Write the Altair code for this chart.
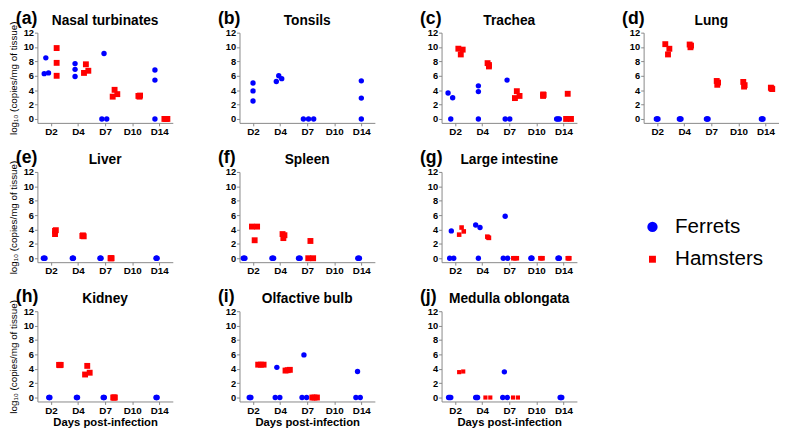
import altair as alt
import pandas as pd

DAYS = ["D2", "D4", "D7", "D10", "D14"]
SPECIES = ["Ferrets", "Hamsters"]
COLORS = ["#0000FF", "#FF0000"]

# (day, log10 value, horizontal jitter within day slot)
NASAL_F = [("D2", 6.3, -0.25), ("D2", 8.5, -0.19), ("D2", 6.4, -0.09),
           ("D4", 7.7, -0.11), ("D4", 6.9, -0.11), ("D4", 5.9, -0.11),
           ("D7", 9.1, -0.04), ("D7", 0, -0.12), ("D7", 0, 0.06),
           ("D14", 6.8, -0.16), ("D14", 5.4, -0.16), ("D14", 0, -0.16)]
NASAL_H = [("D2", 9.86, 0.21), ("D2", 7.8, 0.21), ("D2", 6.0, 0.21),
           ("D4", 7.6, 0.29), ("D4", 6.4, 0.22), ("D4", 6.7, 0.38),
           ("D7", 4.05, 0.35), ("D7", 3.1, 0.28), ("D7", 3.45, 0.45),
           ("D10", 3.2, 0.23), ("D10", 3.1, 0.27), ("D10", 3.25, 0.29),
           ("D14", 0, 0.19), ("D14", 0, 0.25), ("D14", 0, 0.3)]
TONSIL_F = [("D2", 5.0, 0.0), ("D2", 3.9, 0.0), ("D2", 2.5, 0.0),
            ("D4", 5.2, -0.14), ("D4", 6.0, -0.05), ("D4", 5.6, 0.06),
            ("D7", 0, -0.14), ("D7", 0, 0.05), ("D7", 0, 0.24),
            ("D14", 5.3, 0.0), ("D14", 2.9, 0.0), ("D14", 0, 0.0)]
TONSIL_H = []
TRACHEA_F = [("D2", 3.6, -0.26), ("D2", 2.95, -0.09), ("D2", 0, -0.16),
             ("D4", 4.6, -0.14), ("D4", 3.8, -0.14), ("D4", 0, -0.14),
             ("D7", 5.4, -0.08), ("D7", 0, -0.15), ("D7", 0, 0.02),
             ("D14", 0, -0.25), ("D14", 0, -0.2), ("D14", 0, -0.15)]
TRACHEA_H = [("D2", 9.77, 0.12), ("D2", 9.64, 0.28), ("D2", 8.97, 0.21),
             ("D4", 7.76, 0.2), ("D4", 7.5, 0.25), ("D4", 7.3, 0.25),
             ("D7", 3.86, 0.28), ("D7", 2.9, 0.21), ("D7", 3.2, 0.38),
             ("D10", 3.4, 0.25), ("D10", 3.2, 0.25), ("D10", 3.35, 0.27),
             ("D14", 3.5, 0.16), ("D14", 0, 0.1), ("D14", 0, 0.28)]
LUNG_F = [("D2", 0, -0.03), ("D2", 0, 0.0), ("D2", 0, 0.03),
          ("D4", 0, -0.18), ("D4", 0, -0.15), ("D4", 0, -0.12),
          ("D7", 0, -0.18), ("D7", 0, -0.15), ("D7", 0, -0.12),
          ("D14", 0, -0.15), ("D14", 0, -0.12), ("D14", 0, -0.09)]
LUNG_H = [("D2", 10.4, 0.3), ("D2", 9.76, 0.45), ("D2", 8.97, 0.4),
          ("D4", 10.35, 0.2), ("D4", 10.2, 0.25), ("D4", 9.97, 0.23),
          ("D7", 5.28, 0.2), ("D7", 5.06, 0.25), ("D7", 4.75, 0.22),
          ("D10", 5.15, 0.18), ("D10", 4.7, 0.23), ("D10", 4.5, 0.21),
          ("D14", 4.35, 0.2), ("D14", 4.16, 0.25), ("D14", 4.25, 0.22)]
LIVER_F = [("D2", 0, -0.28), ("D2", 0, -0.25), ("D2", 0, -0.22),
           ("D4", 0, -0.21), ("D4", 0, -0.19), ("D4", 0, -0.17),
           ("D7", 0, -0.19), ("D7", 0, -0.17), ("D7", 0, -0.15),
           ("D14", 0, -0.12), ("D14", 0, -0.1), ("D14", 0, -0.08)]
LIVER_H = [("D2", 3.8, 0.15), ("D2", 3.36, 0.15), ("D2", 3.9, 0.18),
           ("D4", 3.18, 0.18), ("D4", 3.05, 0.21), ("D4", 3.1, 0.16),
           ("D7", 0, 0.2), ("D7", 0, 0.22), ("D7", 0, 0.24)]
SPLEEN_F = [("D2", 0, -0.36), ("D2", 0, -0.33), ("D2", 0, -0.3),
            ("D4", 0, -0.3), ("D4", 0, -0.27), ("D4", 0, -0.24),
            ("D7", 0, -0.32), ("D7", 0, -0.29), ("D7", 0, -0.26),
            ("D14", 0, -0.13), ("D14", 0, -0.1), ("D14", 0, -0.07)]
SPLEEN_H = [("D2", 4.4, -0.04), ("D2", 4.4, 0.15), ("D2", 2.5, 0.06),
            ("D4", 3.36, 0.09), ("D4", 3.2, 0.16), ("D4", 2.8, 0.12),
            ("D7", 2.4, 0.12), ("D7", 0, 0.04), ("D7", 0, 0.22)]
LARGE_F = [("D2", 3.8, -0.14), ("D2", 0, -0.2), ("D2", 0, -0.05),
           ("D4", 4.63, -0.24), ("D4", 4.27, -0.08), ("D4", 0, -0.14),
           ("D7", 5.84, -0.15), ("D7", 0, -0.22), ("D7", 0, -0.06),
           ("D10", 0, -0.2), ("D10", 0, -0.18), ("D10", 0, -0.16),
           ("D14", 0, -0.2), ("D14", 0, -0.17), ("D14", 0, -0.15)]
LARGE_H = [("D2", 3.28, 0.15), ("D2", 4.27, 0.24), ("D2", 3.73, 0.32),
           ("D4", 3.0, 0.19), ("D4", 2.83, 0.25), ("D4", 2.9, 0.22),
           ("D7", 0, 0.15), ("D7", 0, 0.22), ("D7", 0, 0.28),
           ("D10", 0, 0.15), ("D10", 0, 0.19), ("D10", 0, 0.23),
           ("D14", 0, 0.16), ("D14", 0, 0.19), ("D14", 0, 0.22)]
KIDNEY_F = [("D2", 0, -0.08), ("D2", 0, -0.06), ("D2", 0, -0.04),
            ("D4", 0, -0.06), ("D4", 0, -0.04), ("D4", 0, -0.02),
            ("D7", 0, -0.07), ("D7", 0, -0.05), ("D7", 0, -0.03),
            ("D14", 0, -0.12), ("D14", 0, -0.1), ("D14", 0, -0.08)]
KIDNEY_H = [("D2", 4.54, 0.3), ("D2", 4.54, 0.36), ("D2", 4.5, 0.33),
            ("D4", 3.2, 0.26), ("D4", 4.4, 0.34), ("D4", 3.45, 0.43),
            ("D7", 0, 0.3), ("D7", 0, 0.33), ("D7", 0, 0.36)]
OLF_F = [("D2", 0, -0.14), ("D2", 0, -0.08), ("D2", 0, -0.11),
         ("D4", 4.2, -0.12), ("D4", 0, -0.18), ("D4", 0, -0.01),
         ("D7", 5.93, -0.12), ("D7", 0, -0.19), ("D7", 0, -0.02),
         ("D14", 3.62, -0.14), ("D14", 0, -0.2), ("D14", 0, -0.04)]
OLF_H = [("D2", 4.57, 0.19), ("D2", 4.57, 0.29), ("D2", 4.57, 0.39),
         ("D4", 3.75, 0.2), ("D4", 3.85, 0.36), ("D4", 3.8, 0.28),
         ("D7", 0, 0.19), ("D7", 0, 0.27), ("D7", 0, 0.36)]
MEDULLA_F = [("D2", 0, -0.24), ("D2", 0, -0.2), ("D2", 0, -0.16),
             ("D4", 0, -0.24), ("D4", 0, -0.2), ("D4", 0, -0.17),
             ("D7", 3.57, -0.18), ("D7", 0, -0.24), ("D7", 0, -0.07),
             ("D14", 0, -0.12), ("D14", 0, -0.09), ("D14", 0, -0.06)]
MEDULLA_H = [("D2", 3.53, 0.15), ("D2", 3.62, 0.3),
             ("D4", 0, 0.12), ("D4", 0, 0.3),
             ("D7", 0, 0.14), ("D7", 0, 0.32)]

PANELS = [
    ("(a)", "Nasal turbinates", NASAL_F, NASAL_H, 1.0),
    ("(b)", "Tonsils", TONSIL_F, TONSIL_H, 1.0),
    ("(c)", "Trachea", TRACHEA_F, TRACHEA_H, 1.0),
    ("(d)", "Lung", LUNG_F, LUNG_H, 1.0),
    ("(e)", "Liver", LIVER_F, LIVER_H, 1.0),
    ("(f)", "Spleen", SPLEEN_F, SPLEEN_H, 1.0),
    ("(g)", "Large intestine", LARGE_F, LARGE_H, 0.6),
    ("(h)", "Kidney", KIDNEY_F, KIDNEY_H, 1.0),
    ("(i)", "Olfactive bulb", OLF_F, OLF_H, 1.0),
    ("(j)", "Medulla oblongata", MEDULLA_F, MEDULLA_H, 0.5),
]

Y_TITLE = "log\u2081\u2080 (copies/mg of tissue)"
X_TITLE = "Days post-infection"
FONT = "Liberation Sans"
W, H = 138, 92
NO_VIEW = alt.ViewBackground(stroke="transparent", strokeWidth=0)

label_expr = "[" + ",".join(f"'{d}'" for d in DAYS) + "][datum.value]"


def make_df(ferrets, hamsters, hscale):
    rows = []
    for sp, pts, sz in (("Ferrets", ferrets, 30), ("Hamsters", hamsters, 36 * hscale)):
        for day, val, jit in pts:
            rows.append({"species": sp, "day": day, "value": val,
                         "pos": DAYS.index(day) + jit, "msize": sz})
    return pd.DataFrame(rows)


def panel(letter, title, ferrets, hamsters, hscale, first_col, bottom_row):
    df = make_df(ferrets, hamsters, hscale)
    x_axis = alt.Axis(values=list(range(len(DAYS))), labelExpr=label_expr,
                      title=X_TITLE if bottom_row else None, grid=False,
                      tickSize=3, labelPadding=1, labelFontSize=10,
                      labelFontWeight="bold", titleFontSize=11.5,
                      titleFontWeight="bold", titlePadding=2)
    y_axis = alt.Axis(values=list(range(0, 13, 2)),
                      title=Y_TITLE if first_col else None, grid=False,
                      tickSize=3, labelPadding=1, labelFontSize=9.5,
                      labelFontWeight="bold", titleFontSize=10,
                      titleFontWeight="normal", titlePadding=5)
    pts = alt.Chart(df).mark_point(filled=True, opacity=1).encode(
        x=alt.X("pos:Q", scale=alt.Scale(domain=[-0.5, len(DAYS) - 0.5], nice=False, zero=False), axis=x_axis),
        y=alt.Y("value:Q", scale=alt.Scale(domain=[-0.55, 12], nice=False, zero=False), axis=y_axis),
        color=alt.Color("species:N", scale=alt.Scale(domain=SPECIES, range=COLORS), legend=None),
        shape=alt.Shape("species:N", scale=alt.Scale(domain=SPECIES, range=["circle", "square"]), legend=None),
        size=alt.Size("msize:Q", scale=None, legend=None),
    )
    tdf = pd.DataFrame({"letter": [letter], "title": [title]})
    lab = alt.Chart(tdf).mark_text(
        font=FONT, fontSize=18, fontWeight="bold", align="left", baseline="top", color="black"
    ).encode(text="letter:N", x=alt.value(-22), y=alt.value(-23))
    ttl = alt.Chart(tdf).mark_text(
        font=FONT, fontSize=14, fontWeight="bold", align="center", baseline="alphabetic", color="black"
    ).encode(text="title:N", x=alt.value(W / 2), y=alt.value(-8))
    return alt.layer(pts, lab, ttl).properties(width=W, height=H, view=NO_VIEW)


def legend_panel():
    ldf = pd.DataFrame({"species": SPECIES, "row": [0, 1], "sz": [110, 50]})
    yenc = alt.Y("row:Q", scale=alt.Scale(domain=[0, 1], range=[56, 89]), axis=None)
    sym = alt.Chart(ldf).mark_point(filled=True, opacity=1).encode(
        x=alt.value(11), y=yenc,
        color=alt.Color("species:N", scale=alt.Scale(domain=SPECIES, range=COLORS), legend=None),
        shape=alt.Shape("species:N", scale=alt.Scale(domain=SPECIES, range=["circle", "square"]), legend=None),
        size=alt.Size("sz:Q", scale=None, legend=None),
    )
    txt = alt.Chart(ldf).mark_text(font=FONT, fontSize=21, align="left", baseline="middle", color="black").encode(
        x=alt.value(34), y=yenc, text="species:N")
    return alt.layer(sym, txt).properties(width=W, height=H, view=NO_VIEW)


charts = [panel(l, t, f, h, s, i in (0, 4, 7), i >= 7) for i, (l, t, f, h, s) in enumerate(PANELS)]
SP = 46
row1 = alt.hconcat(*charts[0:4], spacing=SP)
row2 = alt.hconcat(alt.hconcat(*charts[4:7], spacing=SP), legend_panel(), spacing=SP + 20)
row3 = alt.hconcat(*charts[7:10], spacing=SP)

chart = alt.vconcat(row1, row2, row3, spacing=13).properties(
    padding={"left": 0, "top": -2, "right": 0, "bottom": 0}
).configure_view(strokeWidth=0, stroke="transparent").configure_axis(
    labelFont=FONT, titleFont=FONT, domainColor="#222222", tickColor="#222222",
    labelColor="black", titleColor="black"
).configure(background="white")

chart.save("out.html", embed_options={"renderer": "svg", "actions": False})
